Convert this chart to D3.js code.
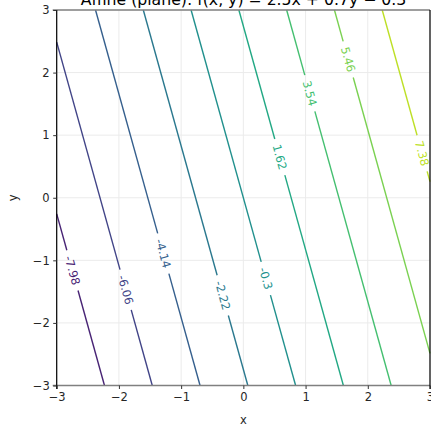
<!DOCTYPE html>
<html>
<head>
<meta charset="utf-8">
<script src="https://cdn.jsdelivr.net/npm/d3@7"></script>
<style>
	body { margin: 0; background: #fff; }
	svg { display: block; font-family: "DejaVu Sans", sans-serif; }
</style>
</head>
<body>
<svg id="chart" width="431" height="426"></svg>
<script>
	// Contour levels and where each straight level line meets the box
	var levels = [-7.98, -6.06, -4.14, -2.22, -0.3, 1.62, 3.54, 5.46, 7.38],
		startX = [-3, -3, -2.376, -1.608, -0.84, -0.072, 0.696, 1.464, 2.232],
		startY = [-0.257, 2.486, 3, 3, 3, 3, 3, 3, 3],
		endX = [-2.232, -1.464, -0.696, 0.072, 0.84, 1.608, 2.376, 3, 3],
		endY = [-3, -3, -3, -3, -3, -3, -3, -2.486, 0.257],
		labelY = [-1.16, -1.47, -0.89, -1.56, -1.29, 0.65, 1.67, 2.21, 0.71],
		colourMin = -9.9,
		colourMax = 9.3,
		xTicks = [-3, -2, -1, 0, 1, 2, 3],
		yTicks = [-3, -2, -1, 0, 1, 2, 3],
		title = 'Affine (plane): f(x, y) = 2.5x + 0.7y \u2212 0.3';

	var plotLeft = 56.7,
		plotRight = 430,
		plotTop = 10,
		plotBottom = 385.5,
		i;

	var svg = d3.select('#chart');

	var x = d3.scaleLinear().domain([-3, 3]).range([plotLeft, plotRight]),
		y = d3.scaleLinear().domain([-3, 3]).range([plotBottom, plotTop]),
		colour = d3.scaleSequential(d3.interpolateViridis).domain([colourMin, colourMax]);

	var fmtTick = function (d) {
		return d < 0 ? '\u2212' + Math.abs(d) : '' + d;
	};

	// Grid
	var grid = svg.append('g').attr('class', 'grid');
	grid.selectAll('.gx')
		.data(xTicks).enter()
		.append('line')
			.attr('x1', function (d) {return x(d);})
			.attr('x2', function (d) {return x(d);})
			.attr('y1', plotTop)
			.attr('y2', plotBottom)
			.style('stroke', '#ebebeb')
			.style('stroke-width', 1);
	grid.selectAll('.gy')
		.data(yTicks).enter()
		.append('line')
			.attr('y1', function (d) {return y(d);})
			.attr('y2', function (d) {return y(d);})
			.attr('x1', plotLeft)
			.attr('x2', plotRight)
			.style('stroke', '#ebebeb')
			.style('stroke-width', 1);

	// Contour lines, broken where the label sits
	var lines = svg.append('g').attr('class', 'contours'),
		labels = svg.append('g').attr('class', 'labels');

	for (i = 0; i < levels.length; i++) {
		var px1 = x(startX[i]), py1 = y(startY[i]),
			px2 = x(endX[i]), py2 = y(endY[i]),
			t = (labelY[i] - startY[i]) / (endY[i] - startY[i]),
			lx = px1 + (px2 - px1) * t,
			ly = py1 + (py2 - py1) * t,
			len = Math.sqrt((px2 - px1) * (px2 - px1) + (py2 - py1) * (py2 - py1)),
			ux = (px2 - px1) / len,
			uy = (py2 - py1) / len,
			angle = Math.atan2(uy, ux) * 180 / Math.PI,
			c = colour(levels[i]);

		if (angle > 90) { angle -= 180; }
		if (angle < -90) { angle += 180; }

		var label = labels.append('text')
			.attr('transform', 'translate(' + lx + ',' + ly + ') rotate(' + angle + ')')
			.attr('text-anchor', 'middle')
			.attr('dy', '0.36em')
			.style('font-size', '11.5px')
			.style('fill', c)
			.text(String(levels[i]));

		var half = label.node().getComputedTextLength() / 2 + 6;

		lines.append('line')
			.attr('x1', px1).attr('y1', py1)
			.attr('x2', lx - ux * half).attr('y2', ly - uy * half)
			.style('stroke', c)
			.style('stroke-width', 1.4);
		lines.append('line')
			.attr('x1', lx + ux * half).attr('y1', ly + uy * half)
			.attr('x2', px2).attr('y2', py2)
			.style('stroke', c)
			.style('stroke-width', 1.4);
	}

	// Spines
	svg.append('line')
		.attr('x1', plotLeft - 4).attr('x2', plotRight).attr('y1', plotTop).attr('y2', plotTop)
		.style('stroke', '#808080').style('stroke-width', 1.6);
	svg.append('line')
		.attr('x1', plotLeft - 4).attr('x2', plotRight).attr('y1', plotBottom).attr('y2', plotBottom)
		.style('stroke', '#808080').style('stroke-width', 1.6);
	svg.append('line')
		.attr('x1', plotLeft).attr('x2', plotLeft).attr('y1', plotTop).attr('y2', plotBottom + 3.5)
		.style('stroke', '#000').style('stroke-width', 1.2);
	svg.append('line')
		.attr('x1', plotRight).attr('x2', plotRight).attr('y1', plotTop).attr('y2', plotBottom + 3.5)
		.style('stroke', '#000').style('stroke-width', 1.2);

	// Axes
	var xAxis = d3.axisBottom(x).tickValues(xTicks).tickFormat(fmtTick).tickSize(3.5).tickPadding(3.5),
		yAxis = d3.axisLeft(y).tickValues(yTicks).tickFormat(fmtTick).tickSize(3.5).tickPadding(3.5);

	var gx = svg.append('g')
		.attr('transform', 'translate(0,' + plotBottom + ')')
		.call(xAxis);
	var gy = svg.append('g')
		.attr('transform', 'translate(' + plotLeft + ',0)')
		.call(yAxis);

	[gx, gy].forEach(function (g) {
		g.select('.domain').remove();
		g.selectAll('line').style('stroke', '#333').style('stroke-width', 1);
		g.selectAll('text')
			.style('font-family', '"DejaVu Sans", sans-serif')
			.style('font-size', '11.5px')
			.style('fill', '#262626');
	});

	// Axis titles
	svg.append('text')
		.attr('x', (plotLeft + plotRight) / 2)
		.attr('y', 424)
		.attr('text-anchor', 'middle')
		.style('font-size', '11.5px')
		.style('fill', '#262626')
		.text('x');
	svg.append('text')
		.attr('transform', 'translate(17,' + ((plotTop + plotBottom) / 2) + ') rotate(-90)')
		.attr('text-anchor', 'middle')
		.style('font-size', '11.5px')
		.style('fill', '#262626')
		.text('y');

	// Title, clipped by the top of the window as in the source
	svg.append('text')
		.attr('x', 243.5)
		.attr('y', 5)
		.attr('text-anchor', 'middle')
		.style('font-size', '15.7px')
		.style('fill', '#000')
		.text(title);
</script>
</body>
</html>
